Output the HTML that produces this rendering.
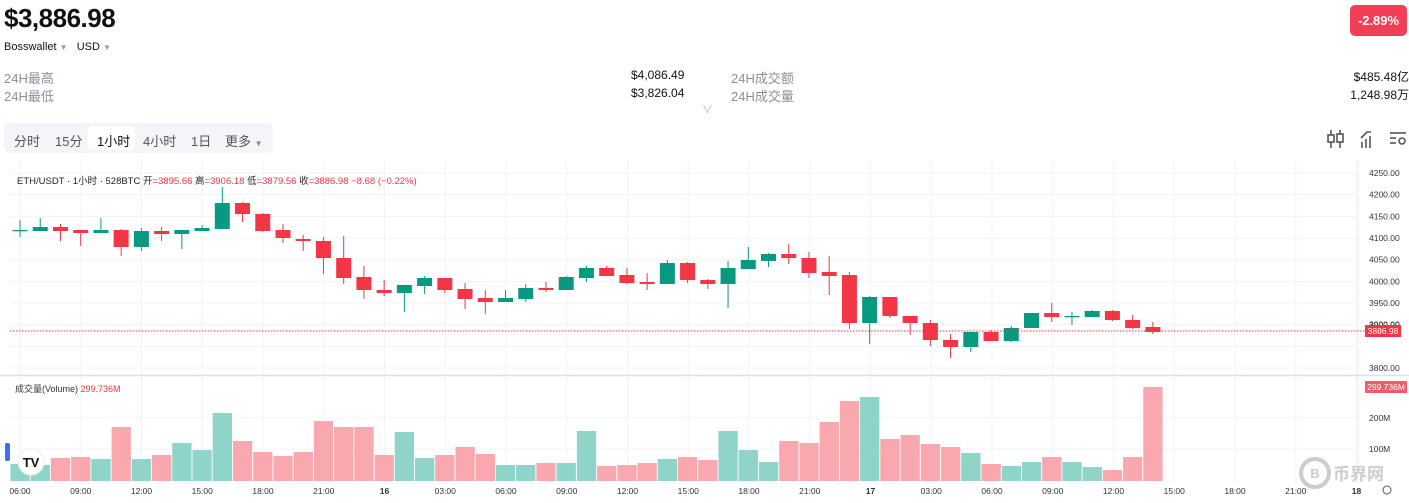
<!DOCTYPE html>
<html><head><meta charset="utf-8"><style>
*{margin:0;padding:0;box-sizing:border-box}
body{width:1409px;height:503px;background:#fff;font-family:"Liberation Sans","Noto Sans CJK SC",sans-serif;position:relative;overflow:hidden;color:#111}
.a{position:absolute;white-space:nowrap}
.g{color:#8a8f9c;font-size:13px}
.v{font-size:13px;color:#111}
</style></head><body>
<div class="a" style="left:4px;top:3px;font-size:26px;font-weight:bold;letter-spacing:-0.5px">$3,886.98</div>
<div class="a" style="left:4px;top:41px;font-size:11px">Bosswallet <span style="color:#999;font-size:8px">▼</span>&nbsp;&nbsp;&nbsp;USD <span style="color:#999;font-size:8px">▼</span></div>
<div class="a" style="left:1350px;top:5px;width:57px;height:31px;background:#f23f55;border-radius:5px;color:#fff;font-weight:bold;font-size:13px;text-align:center;line-height:31px">-2.89%</div>
<div class="a g" style="left:4px;top:68px">24H最高</div>
<div class="a g" style="left:4px;top:86px">24H最低</div>
<div class="a v" style="left:631px;top:68px;font-size:12px">$4,086.49</div>
<div class="a v" style="left:631px;top:86px;font-size:12px">$3,826.04</div>
<div class="a g" style="left:731px;top:68px">24H成交额</div>
<div class="a g" style="left:731px;top:86px">24H成交量</div>
<div class="a v" style="right:0px;top:68px;font-size:12px">$485.48亿</div>
<div class="a v" style="right:0px;top:86px;font-size:12px">1,248.98万</div>
<div class="a" style="left:702px;top:101px;color:#bbb;font-size:11px">∨</div>
<div class="a" style="left:4px;top:123px;width:269px;height:30px;background:#f3f5fa;border-radius:6px"></div>
<div class="a" style="left:88px;top:126px;width:47px;height:24px;background:#fff;border-radius:5px"></div>
<div class="a" style="left:14px;top:131px;font-size:13px;color:#555;word-spacing:0">分时</div>
<div class="a" style="left:55px;top:131px;font-size:13px;color:#555">15分</div>
<div class="a" style="left:97px;top:131px;font-size:13px;color:#111">1小时</div>
<div class="a" style="left:143px;top:131px;font-size:13px;color:#555">4小时</div>
<div class="a" style="left:191px;top:131px;font-size:13px;color:#555">1日</div>
<div class="a" style="left:225px;top:131px;font-size:13px;color:#555">更多 <span style="font-size:8px;color:#888">▼</span></div>
<svg class="a" style="left:1326px;top:128px" width="83" height="22" viewBox="0 0 83 22">
<g stroke="#555" stroke-width="1.6" fill="none">
<line x1="5" y1="2" x2="5" y2="20"/><rect x="2" y="7" width="6" height="7" fill="#fff"/>
<line x1="14" y1="2" x2="14" y2="20"/><rect x="11" y="6" width="6" height="8" fill="#fff"/>
<polyline points="35,10 41,4 45,4"/><line x1="36" y1="14" x2="36" y2="20"/><line x1="40" y1="11" x2="40" y2="20"/><line x1="44" y1="8" x2="44" y2="20"/>
<line x1="64" y1="5" x2="80" y2="5"/><line x1="64" y1="10" x2="70" y2="10"/><line x1="64" y1="15" x2="70" y2="15"/><circle cx="76" cy="13" r="3"/>
</g></svg>
<svg id="ch" class="a" style="left:0;top:0" width="1409" height="503"></svg>
<div class="a" style="left:17px;top:173px;font-size:9.5px;color:#222">ETH/USDT · 1小时 · 528BTC <span style="color:#222">开</span><span style="color:#f23645">=3895.66</span> 高<span style="color:#f23645">=3906.18</span> 低<span style="color:#f23645">=3879.56</span> 收<span style="color:#f23645">=3886.98 −8.68 (−0.22%)</span></div>
<div class="a" style="left:15px;top:382px;font-size:9px;color:#333">成交量(Volume) <span style="color:#f23645">299.736M</span></div>
<script>
var C=[
[230,230,220,237,'g'],[227,231,218,231,'g'],[227,231,224,241,'r'],[230,233,230,246,'r'],[230,233,218,233,'g'],
[230,247,229,256,'r'],[231,247,228,251,'g'],[231,234,227,241,'r'],[230,234,230,249,'g'],[228,231,225,231,'g'],
[203,229,187,229,'g'],[203,214,202,222,'r'],[214,231,213,232,'r'],[230,238,224,243,'r'],[239,241,235,251,'r'],
[241,258,237,274,'r'],[258,278,236,284,'r'],[277,290,266,299,'r'],[290,293,280,296,'r'],[285,293,285,312,'g'],
[278,286,276,294,'g'],[278,290,278,293,'r'],[289,299,283,309,'r'],[298,302,290,314,'r'],[298,302,290,302,'g'],
[288,299,284,302,'g'],[288,290,282,292,'r'],[277,290,276,290,'g'],[268,278,266,282,'g'],[268,276,266,276,'r'],
[275,283,268,284,'r'],[282,284,273,290,'r'],[263,284,260,284,'g'],[263,280,262,283,'r'],[280,284,279,289,'r'],
[268,284,261,308,'g'],[260,269,247,269,'g'],[254,261,253,267,'g'],[254,258,244,264,'r'],[258,273,252,278,'r'],
[272,276,256,295,'r'],[275,323,272,329,'r'],[297,323,296,344,'g'],[297,316,297,318,'r'],[316,323,316,335,'r'],
[323,340,320,346,'r'],[340,347,334,358,'r'],[332,347,332,352,'g'],[332,341,330,341,'r'],[328,341,326,342,'g'],
[313,328,313,328,'g'],[313,317,303,322,'r'],[316,317,312,325,'g'],[311,317,310,317,'g'],[311,320,310,321,'r'],
[320,328,315,329,'r'],[327,332,322,334,'r']];
var V=[464,465,458,457,459,427,459,455,443,450,413,441,452,456,452,421,427,427,455,432,458,455,447,454,465,465,463,463,431,466,465,463,459,457,460,431,450,462,441,443,422,401,397,439,435,444,447,453,464,466,462,457,462,467,470,457,387];
var s='';
for(var k=0;k<10;k++){var y=173+21.67*k;s+='<line x1="10" x2="1358" y1="'+y+'" y2="'+y+'" stroke="#f2f3f5"/>';}
[418,449].forEach(function(y){s+='<line x1="10" x2="1358" y1="'+y+'" y2="'+y+'" stroke="#f2f3f5"/>';});
var tl=['06:00','09:00','12:00','15:00','18:00','21:00','16','03:00','06:00','09:00','12:00','15:00','18:00','21:00','17','03:00','06:00','09:00','12:00','15:00','18:00','21:00','18'];
for(var i=0;i<tl.length;i++){var x=20+60.75*i;s+='<line x1="'+x+'" x2="'+x+'" y1="160" y2="483" stroke="#f2f3f5"/>';
s+='<text x="'+x+'" y="494" font-size="8.5" fill="#333" text-anchor="middle" font-family="Liberation Sans" '+(tl[i].length<3?'font-weight="bold"':'')+'>'+tl[i]+'</text>';}
s+='<line x1="1358" x2="1358" y1="160" y2="483" stroke="#eceef2"/>';
s+='<line x1="0" x2="1409" y1="375.5" y2="375.5" stroke="#dde0e8" stroke-width="1.5"/>';
for(var k=0;k<10;k++){var y=173+21.67*k;if(k==8)continue;s+='<text x="1369" y="'+(y+3)+'" font-size="8.5" fill="#333" font-family="Liberation Sans">'+(4250-50*k)+'.00</text>';}
s+='<text x="1369" y="328" font-size="8.5" fill="#333" font-family="Liberation Sans">3900.00</text>';
s+='<text x="1369" y="421" font-size="8.5" fill="#333" font-family="Liberation Sans">200M</text><text x="1369" y="452" font-size="8.5" fill="#333" font-family="Liberation Sans">100M</text>';
for(var i=0;i<57;i++){var x=20+20.23*i;var v=V[i];var c=C[i][4]=='g';
s+='<rect x="'+(x-9.6)+'" y="'+v+'" width="19.3" height="'+(481-v)+'" fill="'+(c?'#8ed4c8':'#f9a8b0')+'"/>';}
for(var i=0;i<57;i++){var x=20+20.23*i,d=C[i],col=d[4]=='g'?'#089981':'#f23645';
s+='<line x1="'+x+'" x2="'+x+'" y1="'+d[2]+'" y2="'+d[3]+'" stroke="'+col+'" stroke-width="1"/>';
var h=Math.max(d[1]-d[0],1.3);s+='<rect x="'+(x-7.5)+'" y="'+d[0]+'" width="15" height="'+h+'" fill="'+col+'"/>';}
s+='<line x1="10" x2="1365" y1="331" y2="331" stroke="#f23645" stroke-dasharray="1.5,1.5"/>';
s+='<rect x="1365" y="325" width="36" height="12" fill="#f23645"/><text x="1383" y="334" font-size="8.5" fill="#fff" text-anchor="middle" font-family="Liberation Sans">3886.98</text>';
s+='<rect x="1365" y="381" width="42" height="12" fill="#f55a68"/><text x="1386" y="390" font-size="8.5" fill="#fff" text-anchor="middle" font-family="Liberation Sans">299.736M</text>';
s+='<rect x="5" y="443" width="5" height="18" rx="2" fill="#3b6ef5"/>';
s+='<circle cx="31" cy="462" r="13" fill="#fff" stroke="#eee"/><text x="31" y="467" font-size="13" font-weight="bold" text-anchor="middle" fill="#111" font-family="Liberation Sans">TV</text>';
s+='<circle cx="1315" cy="473" r="14" fill="none" stroke="#ccc" stroke-width="4"/><text x="1315" y="478" font-size="13" font-weight="bold" text-anchor="middle" fill="#ccc" font-family="Liberation Sans">B</text>';
s+='<text x="1333" y="480" font-size="17" font-weight="bold" fill="#ccc" font-family="Noto Sans CJK SC">币界网</text>';
s+='<circle cx="1387" cy="490" r="4" fill="none" stroke="#555"/>';
document.getElementById('ch').innerHTML=s;
</script>
</body></html>
